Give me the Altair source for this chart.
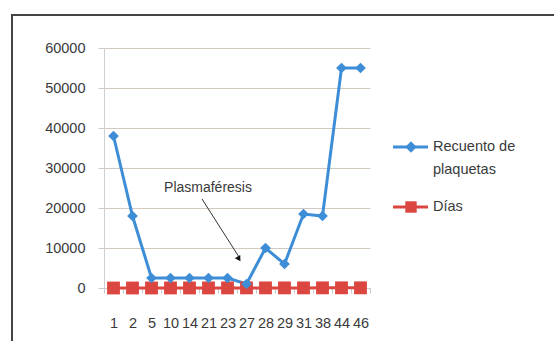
import altair as alt
import pandas as pd

dias = ["1", "2", "5", "10", "14", "21", "23", "27", "28", "29", "31", "38", "44", "46"]
recuento = [38000, 18000, 2500, 2500, 2500, 2500, 2500, 1000, 10000, 6000, 18500, 18000, 55000, 55000]
dias_val = [1, 2, 5, 10, 14, 21, 23, 27, 28, 29, 31, 38, 44, 46]
y_ticks = [0, 10000, 20000, 30000, 40000, 50000, 60000]

FONT = "Liberation Sans"
BLUE = "#3d8ed6"
RED = "#dc4640"
TXT = "#3a3a3a"
W, H = 266, 240
LEFT, TOP = 104, 48

df = pd.DataFrame({"dia": dias, "recuento": recuento, "dias": dias_val})

xaxis = alt.Axis(title=None, labelAngle=0, labelFont=FONT, labelFontSize=14.5,
                 labelColor=TXT, labelPadding=23, tickSize=5, tickColor="#c8c8c8",
                 domainColor="#c8c8c8", tickBand="extent", grid=False, labelOverlap=False)
xscale = alt.Scale(paddingInner=0, paddingOuter=0)
yaxis = alt.Axis(title=None, values=y_ticks, format="d", labelFont=FONT, labelFontSize=14.5,
                 labelColor=TXT, labelPadding=13, tickSize=6, tickColor="#c8c8c8",
                 domainColor="#d0d0d0", gridColor="#d2c9c0", gridWidth=1.2, labelOverlap=False)
yscale = alt.Scale(domain=[0, 60000], nice=False)

base = alt.Chart(df)
X = alt.X("dia:N", sort=dias, scale=xscale, axis=xaxis)

blue_line = base.mark_line(color=BLUE, strokeWidth=3).encode(
    x=X, y=alt.Y("recuento:Q", scale=yscale, axis=yaxis))
blue_pts = base.mark_point(shape="diamond", filled=True, color=BLUE, size=115, opacity=1).encode(
    x=X, y=alt.Y("recuento:Q", scale=yscale, axis=yaxis))
red_line = base.mark_line(color=RED, strokeWidth=3).encode(
    x=X, y=alt.Y("dias:Q", scale=yscale, axis=yaxis))
red_pts = base.mark_point(shape="square", filled=True, color=RED, size=165, opacity=1).encode(
    x=X, y=alt.Y("dias:Q", scale=yscale, axis=yaxis))

# annotation
one = alt.Chart(pd.DataFrame({"t": ["Plasmaféresis"]}))
ann_text = one.mark_text(font=FONT, fontSize=14, color=TXT, align="center", baseline="middle").encode(
    text="t:N", x=alt.value(208 - LEFT), y=alt.value(188 - TOP))
ann_line = one.mark_rule(color="#333333", strokeWidth=1).encode(
    x=alt.value(202 - LEFT), y=alt.value(199 - TOP), x2=alt.value(239 - LEFT), y2=alt.value(257 - TOP))
ann_head = one.mark_point(shape="triangle-down", filled=True, color="#111111", size=40, angle=328, opacity=1).encode(
    x=alt.value(239 - LEFT), y=alt.value(259 - TOP))

# legend
leg = pd.DataFrame({"name": ["Recuento de", "Días"], "color": [BLUE, RED],
                    "shape": ["diamond", "square"], "ly": [147 - TOP, 207 - TOP]})
legc = alt.Chart(leg)
cscale = alt.Scale(domain=list(leg["name"]), range=list(leg["color"]))
leg_rule = legc.mark_rule(strokeWidth=3).encode(
    x=alt.value(393 - LEFT), x2=alt.value(428 - LEFT),
    y=alt.Y("ly:Q", scale=None), color=alt.Color("name:N", scale=cscale, legend=None))
leg_pt = legc.mark_point(filled=True, opacity=1, size=130).encode(
    x=alt.value(411 - LEFT), y=alt.Y("ly:Q", scale=None),
    shape=alt.Shape("shape:N", scale=None),
    color=alt.Color("name:N", scale=cscale, legend=None))
leg_txt_df = pd.DataFrame({"t": ["Recuento de", "plaquetas", "Días"], "ly": [147 - TOP, 170 - TOP, 207 - TOP]})
leg_txt = alt.Chart(leg_txt_df).mark_text(font=FONT, fontSize=14.5, color=TXT, align="left", baseline="middle").encode(
    text="t:N", x=alt.value(433 - LEFT), y=alt.Y("ly:Q", scale=None))

# frame
frame_top = one.mark_rect(color="#444444", opacity=1).encode(
    x=alt.value(11 - LEFT), x2=alt.value(600 - LEFT), y=alt.value(14 - TOP), y2=alt.value(16 - TOP))
frame_left = one.mark_rect(color="#444444", opacity=1).encode(
    x=alt.value(11 - LEFT), x2=alt.value(13 - LEFT), y=alt.value(14 - TOP), y2=alt.value(400 - TOP))

chart = alt.layer(
    blue_line, red_line, red_pts, blue_pts, ann_line, ann_head, ann_text,
    leg_rule, leg_pt, leg_txt, frame_top, frame_left,
).resolve_scale(color="independent", shape="independent").properties(
    width=W, height=H,
    autosize=alt.AutoSizeParams(type="none"),
    padding={"left": LEFT, "top": TOP, "right": 554 - LEFT - W, "bottom": 341 - TOP - H},
    background="white",
).configure_view(stroke=None)

chart.save("out.html", embed_options={"renderer": "svg", "actions": False})
